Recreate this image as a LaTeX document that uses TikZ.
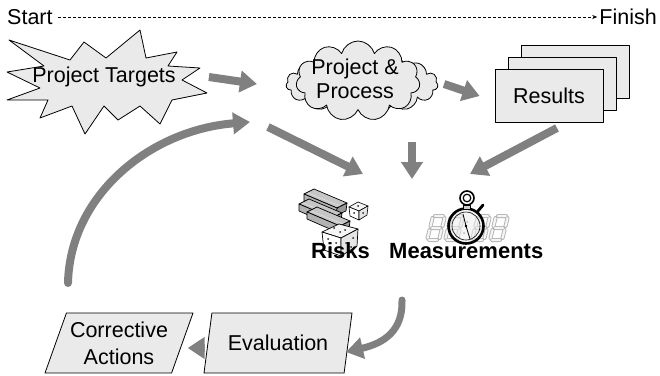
\documentclass[tikz,border=0pt]{standalone}
\usepackage{fontspec}
\setmainfont{Liberation Sans}
\usetikzlibrary{arrows.meta,shapes.symbols,shapes.geometric,shadows}
\definecolor{flowgray}{RGB}{128,128,128}
\definecolor{paleshape}{RGB}{234,234,234}

\tikzset{
  flow/.style={draw=flowgray,line width=8pt,-{Triangle[width=21pt,length=17pt]}},
  shapebox/.style={draw=black,fill=paleshape,line width=0.8pt},
  bigtext/.style={font=\fontsize{21.5}{24}\selectfont,inner sep=0pt},
  boldtext/.style={font=\fontsize{22}{24}\selectfont\bfseries,inner sep=0pt,anchor=base west},
  slanted/.style={shapebox,bigtext,align=center,trapezium,trapezium left angle=63.4,
    trapezium right angle=116.6,trapezium stretches body,minimum width=148,minimum height=60},
  segment/.style={draw=gray!60,line width=0.9pt,double=gray!8,double distance=2.2pt,line cap=round},
  segdigit/.pic={
    \draw[segment] (2,0)--(10,0) (5,-12)--(13,-12) (8,-24)--(16,-24)
      (0.5,-2)--(2.5,-10) (3.5,-14)--(5.5,-22)
      (12.5,-2)--(14.5,-10) (15.5,-14)--(17.5,-22);
  }
}

\begin{document}
\begin{tikzpicture}[x=1pt,y=-1pt,line join=round]
  \useasboundingbox (0,0) rectangle (660,375);

  % time line
  \node[bigtext,anchor=base west] (start) at (7,24) {Start};
  \node[bigtext,anchor=base east] (finish) at (657,24) {Finish};
  \draw[line width=0.8pt,dash pattern=on 3pt off 2pt,-{Stealth[length=5pt,width=4pt]}]
    ([xshift=5pt,yshift=7pt]start.base east) -- ([xshift=-2pt,yshift=7pt]finish.base west);

  % burst with the targets
  \filldraw[shapebox] (9,40) -- (70,60) -- (84,42) -- (106,58) -- (140,30) -- (146,58) -- (177,52)
    -- (168,66) -- (200,68) -- (182,80) -- (207,93) -- (172,100) -- (160,124) -- (140,106)
    -- (118,120) -- (104,106) -- (85,134) -- (72,106) -- (40,118) -- (48,100) -- (7,100)
    -- (40,88) -- (7,72) -- (44,66) -- cycle;
  \node[bigtext] (targets) at (104,77) {Project Targets};

  % cloud, two layers
  \node[cloud,cloud puffs=15,aspect=2.4,minimum width=152,minimum height=62,shapebox] (cloudback) at (362,84) {};
  \node[cloud,cloud puffs=11,aspect=1.6,minimum width=124,minimum height=80,shapebox] (cloudfront) at (358,81) {};
  \node[bigtext,align=center] (process) at (355,79) {Project \&\\Process};

  % stacked results
  \node[shapebox,bigtext,minimum width=108,minimum height=53,
    copy shadow={shadow xshift=26pt,shadow yshift=24pt,fill=paleshape,draw=black,line width=0.8pt},
    copy shadow={shadow xshift=13pt,shadow yshift=12pt,fill=paleshape,draw=black,line width=0.8pt}]
    (results) at (549,96) {Results};

  % gold bars and dice
  \foreach \dx/\dy in {0/0,-5/10,3/18}{
    \begin{scope}[shift={(\dx,\dy)}]
      \filldraw[fill=gray!45,line width=0.7pt] (304,194) -- (314,189) -- (347,203) -- (337,208) -- cycle;
      \filldraw[fill=gray!80,line width=0.7pt] (337,208) -- (347,203) -- (346,211) -- (336,215) -- cycle;
      \filldraw[fill=gray!60,line width=0.7pt] (304,194) -- (337,208) -- (336,215) -- (304,201) -- cycle;
      \draw[gray!25,line width=0.6pt] (308,193) -- (340,206);
    \end{scope}
  }
  \filldraw[fill=gray!8,line width=0.7pt] (322,232) -- (339,224) -- (358,229) -- (341,238) -- cycle;
  \filldraw[fill=white,line width=0.7pt] (322,232) -- (341,238) -- (341,256) -- (324,250) -- cycle;
  \filldraw[fill=gray!20,line width=0.7pt] (341,238) -- (358,229) -- (357,246) -- (341,256) -- cycle;
  \filldraw[fill=gray!8,line width=0.6pt] (349,207) -- (358,202) -- (368,206) -- (359,211) -- cycle;
  \filldraw[fill=white,line width=0.6pt] (349,207) -- (359,211) -- (359,220) -- (350,216) -- cycle;
  \filldraw[fill=gray!20,line width=0.6pt] (359,211) -- (368,206) -- (367,215) -- (359,220) -- cycle;
  \foreach \p in {(334,228),(345,230),(340,232),(328,239),(336,243),(330,247),(346,243),(353,238),(351,247),
    (358,206),(354,213),(363,213)}
    \fill[gray!30!black] \p circle (1pt);

  % stopwatch over the digits
  \foreach \x in {427,445,472,490} \pic at (\x,240) {segdigit};
  \fill[gray!60] (467,222) circle (1.5pt) (464,233) circle (1.5pt);
  \filldraw[fill=gray!15,fill opacity=0.5,draw=black,line width=2.6pt] (466,226) circle (17.5pt);
  \draw[line width=0.6pt] (466,226) circle (14pt);
  \draw[line width=0.8pt] (466,226) -- (463,214) (466,226) -- (470,239);
  \fill (466,226) circle (1.4pt);
  \filldraw[fill=gray!40,line width=0.8pt] (463,205) rectangle (470,209);
  \draw[line width=1.6pt] (467,198) circle (7pt);
  \draw[line width=1.2pt] (467,198) circle (3.8pt);
  \draw[line width=2.8pt,line cap=round] (478,211) -- (483,205);

  \node[boldtext] (risks) at (311,258) {Risks};
  \node[boldtext] (measurements) at (389,258) {Measurements};

  % evaluation loop
  \node[slanted] (corrective) at (119,343) {Corrective\\[3pt]Actions};
  \node[slanted] (evaluation) at (278,343) {Evaluation};

  \coordinate (fromtargets) at (268,127);
  \coordinate (intorisks) at (363,174);
  \coordinate (fromprocess) at (412,142);
  \coordinate (intomid) at (412,179);
  \coordinate (fromresults) at (557,128);
  \coordinate (intomeas) at (470,174);
  \coordinate (loopstart) at (68,283);
  \coordinate (loopend) at (250,122);
  \coordinate (frommeas) at (402,300);
  \coordinate (intoeval) at (346,352);

  \draw[flow] ([xshift=33pt]targets.east) -- ([xshift=-29pt]cloudback.west);
  \draw[flow] ([xshift=6pt]cloudback.east) -- ([xshift=-15pt]results.west);
  \draw[flow] (fromtargets) -- (intorisks);
  \draw[flow] (fromprocess) -- (intomid);
  \draw[flow] (fromresults) -- (intomeas);
  \draw[flow,line cap=round] (loopstart) .. controls (70,195) and (150,130) .. (loopend);
  \draw[flow,line width=7pt,line cap=round] (frommeas) .. controls (403,330) and (385,343) .. (intoeval);
  \draw[flow] ([xshift=-3pt,yshift=-5pt]evaluation.west) -- ([xshift=5pt,yshift=-5pt]corrective.east);
\end{tikzpicture}
\end{document}
